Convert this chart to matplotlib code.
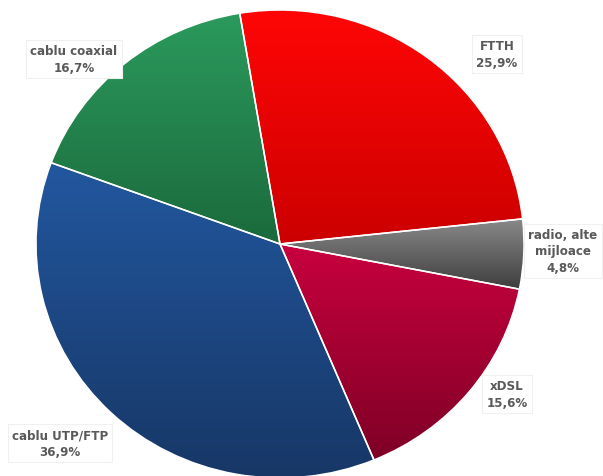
import numpy as np
import matplotlib
matplotlib.use("Agg")
import matplotlib.pyplot as plt
from matplotlib.colors import LinearSegmentedColormap

# date
categorii = ["FTTH", "radio, alte\nmijloace", "xDSL", "cablu UTP/FTP", "cablu coaxial"]
valori = [25.9, 4.8, 15.6, 36.9, 16.7]
etichete = ["25,9%", "4,8%", "15,6%", "36,9%", "16,7%"]
culori_sus = ["#ff0606", "#8a8a8a", "#c8003e", "#22579f", "#2b9a5c"]
culori_jos = ["#cc0000", "#3e3e3e", "#7e0026", "#173766", "#1b6a3c"]
# pozitii etichete (pixeli, y de sus)
pozitii = [(497, 55), (563, 252), (507, 395), (60, 444), (74, 60)]

W, H = 603, 477
fig = plt.figure(figsize=(W / 100, H / 100), dpi=100)

cx, cy, rx, ry = 280, 245, 244, 234
ax = fig.add_axes([(cx - rx) / W, 1 - (cy + ry) / H, 2 * rx / W, 2 * ry / H])
ax.axis("off")

wedges, _ = ax.pie(valori, startangle=99.5, counterclock=False, radius=1,
                   colors=culori_sus,
                   wedgeprops=dict(edgecolor="white", linewidth=1.1))
ax.set_aspect("auto")
ax.set_xlim(-1, 1)
ax.set_ylim(-1, 1)

# gradient pe fiecare felie
for w, c1, c2 in zip(wedges, culori_sus, culori_jos):
    ext = w.get_path().get_extents(w.get_patch_transform())
    cmap = LinearSegmentedColormap.from_list("g", [c2, c1])
    grad = np.linspace(0, 1, 256).reshape(-1, 1)
    im = ax.imshow(grad, cmap=cmap, origin="lower", aspect="auto",
                   extent=[ext.x0, ext.x1, ext.y0, ext.y1], zorder=1)
    im.set_clip_path(w)
    w.set_facecolor("none")
    w.set_zorder(2)
ax.set_xlim(-1, 1)
ax.set_ylim(-1, 1)

for cat, et, (px, py) in zip(categorii, etichete, pozitii):
    fig.text(px / W, 1 - py / H, cat + "\n" + et, ha="center", va="center",
             fontsize=8.6, fontweight="bold", color="#595959", linespacing=1.35,
             bbox=dict(boxstyle="square,pad=0.35", facecolor="white",
                       edgecolor="#f0f0f0", linewidth=0.8))

fig.savefig("out.png", dpi=100)
